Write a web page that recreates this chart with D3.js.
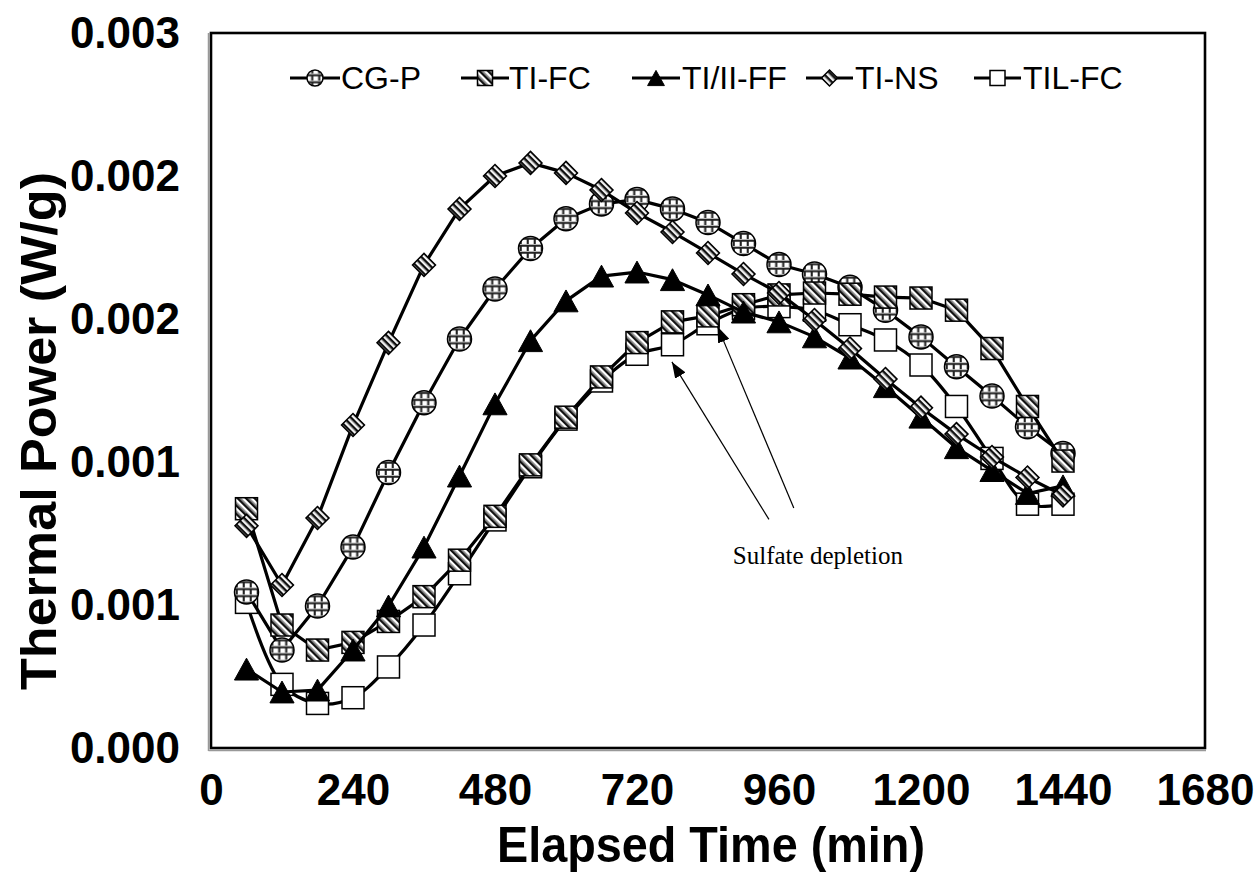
<!DOCTYPE html>
<html><head><meta charset="utf-8">
<script src="https://cdn.jsdelivr.net/npm/d3@7"></script>
<style>body{margin:0;background:#fff}</style>
</head><body><svg id="c" width="1257" height="882"></svg>
<script>
// ---------------- DATA ----------------
const times = [60,120,180,240,300,360,420,480,540,600,660,720,780,840,900,960,1020,1080,1140,1200,1260,1320,1380,1440];
const cgP   = [0.000655,0.000411,0.000596,0.000843,0.001156,0.001449,0.001716,0.001926,0.002096,0.002221,0.002283,0.002301,0.002262,0.002205,0.002117,0.002029,0.001989,0.001933,0.001837,0.001725,0.001600,0.001477,0.001348,0.001236];
const tiFC  = [0.001004,0.000516,0.000411,0.000443,0.000531,0.000635,0.000788,0.000972,0.001188,0.001388,0.001557,0.001701,0.001788,0.001813,0.001860,0.001901,0.001909,0.001904,0.001892,0.001888,0.001837,0.001676,0.001433,0.001204];
const tiFF  = [0.000331,0.000235,0.000243,0.000411,0.000596,0.000843,0.001141,0.001444,0.001709,0.001876,0.001980,0.001997,0.001965,0.001901,0.001829,0.001788,0.001725,0.001636,0.001516,0.001388,0.001260,0.001164,0.001068,0.001100];
const tiNS  = [0.000932,0.000684,0.000965,0.001355,0.001700,0.002027,0.002262,0.002400,0.002455,0.002413,0.002341,0.002245,0.002165,0.002077,0.001989,0.001909,0.001796,0.001676,0.001548,0.001428,0.001317,0.001221,0.001135,0.001060];
const tilFC = [0.000611,0.000267,0.000187,0.000211,0.000340,0.000516,0.000731,0.000957,0.001180,0.001380,0.001540,0.001652,0.001692,0.001780,0.001844,0.001852,0.001837,0.001776,0.001712,0.001607,0.001433,0.001215,0.001023,0.001023];
const seriesNames = ["CG-P","TI-FC","TI/II-FF","TI-NS","TIL-FC"];
const xTicks = [0,240,480,720,960,1200,1440,1680];
const yTicks = [0,0.0006,0.0012,0.0018,0.0024,0.003];
const yTickLabels = ["0.000","0.001","0.001","0.002","0.002","0.003"];
const xTitle = "Elapsed Time (min)";
const yTitle = "Thermal Power (W/g)";
const noteText = "Sulfate depletion";
const noteAnchor = [882, 0.000772];
const arrows = [
  {from:[943,0.000959], to:[779,0.00162]},
  {from:[985,0.001007], to:[856,0.001769]}
];

// ---------------- LAYOUT ----------------
const svg = d3.select("#c");
const plot = {left:211, right:1205, top:33, bottom:748};
const x = d3.scaleLinear().domain([0,1680]).range([plot.left, plot.right]);
const y = d3.scaleLinear().domain([0,0.003]).range([plot.bottom, plot.top]);
const FONT = "'Liberation Sans', Arial, sans-serif";

// ---------------- PATTERNS ----------------
const defs = svg.append("defs");
const pg = defs.append("pattern").attr("id","pGrid").attr("patternUnits","userSpaceOnUse")
  .attr("width",7).attr("height",7).attr("x",-4.5).attr("y",-4.5);
pg.append("rect").attr("width",7).attr("height",7).attr("fill","#fff");
pg.append("rect").attr("x",0).attr("width",1).attr("height",7).attr("fill","#bbb");
pg.append("rect").attr("x",1).attr("width",1.8).attr("height",7).attr("fill","#222");
pg.append("rect").attr("y",0).attr("width",7).attr("height",1).attr("fill","#bbb");
pg.append("rect").attr("y",1).attr("width",7).attr("height",1.8).attr("fill","#222");

const pd = defs.append("pattern").attr("id","pDiag").attr("patternUnits","userSpaceOnUse")
  .attr("width",6).attr("height",6).attr("patternTransform","rotate(-45)");
pd.append("rect").attr("width",6).attr("height",6).attr("fill","#fff");
pd.append("rect").attr("width",2.6).attr("height",6).attr("fill","#111");
pd.append("rect").attr("x",2.6).attr("width",1.2).attr("height",6).attr("fill","#888");

const ph = defs.append("pattern").attr("id","pH").attr("patternUnits","userSpaceOnUse")
  .attr("width",5).attr("height",5);
ph.append("rect").attr("width",5).attr("height",5).attr("fill","#fff");
ph.append("rect").attr("width",5).attr("height",2).attr("fill","#111");
ph.append("rect").attr("y",2).attr("width",5).attr("height",1.2).attr("fill","#888");

const am = defs.append("marker").attr("id","arrow").attr("viewBox","0 0 16 12")
  .attr("refX",16).attr("refY",6).attr("markerWidth",16).attr("markerHeight",12)
  .attr("markerUnits","userSpaceOnUse").attr("orient","auto");
am.append("path").attr("d","M0,0 L16,6 L0,12 Z").attr("fill","#000");

// ---------------- MARKERS ----------------
function drawMarker(g, type, s){
  if(type==="circle"){
    g.append("circle").attr("r",s/2).attr("fill","url(#pGrid)").attr("stroke","#000").attr("stroke-width",1.5);
  } else if(type==="hsquare"){
    g.append("rect").attr("x",-s/2).attr("y",-s/2).attr("width",s).attr("height",s)
      .attr("fill","url(#pDiag)").attr("stroke","#000").attr("stroke-width",1.5);
  } else if(type==="osquare"){
    g.append("rect").attr("x",-s/2).attr("y",-s/2).attr("width",s).attr("height",s)
      .attr("fill","#fff").attr("stroke","#000").attr("stroke-width",1.5);
  } else if(type==="triangle"){
    const w=s*1.05, h=s*0.95;
    g.append("path").attr("d",`M0,${-h/2} L${w/2},${h/2} L${-w/2},${h/2} Z`).attr("fill","#000")
      .attr("stroke","#000").attr("stroke-width",1);
  } else if(type==="diamond"){
    const a=s/Math.SQRT2;
    g.append("g").attr("transform","rotate(45)").append("rect")
      .attr("x",-a/2).attr("y",-a/2).attr("width",a).attr("height",a)
      .attr("fill","url(#pH)").attr("stroke","#000").attr("stroke-width",1.5);
  }
}

const seriesDefs = {
  "CG-P":    {values:cgP,   marker:"circle",   size:24, curve:d3.curveLinear},
  "TI-FC":   {values:tiFC,  marker:"hsquare",  size:22, curve:d3.curveLinear},
  "TI/II-FF":{values:tiFF,  marker:"triangle", size:23, curve:d3.curveLinear},
  "TI-NS":   {values:tiNS,  marker:"diamond",  size:23, curve:d3.curveLinear},
  "TIL-FC":  {values:tilFC, marker:"osquare",  size:22, curve:d3.curveCatmullRom}
};
const drawOrder = ["TIL-FC","CG-P","TI-FC","TI/II-FF","TI-NS"];

// ---------------- FRAME ----------------
svg.append("line").attr("x1",plot.left-2.5).attr("x2",plot.left-2.5).attr("y1",plot.top).attr("y2",plot.bottom+3)
  .attr("stroke","#999").attr("stroke-width",1.5);
svg.append("line").attr("x1",plot.left-2.5).attr("x2",plot.right+1).attr("y1",plot.bottom+2.5).attr("y2",plot.bottom+2.5)
  .attr("stroke","#999").attr("stroke-width",1.5);
svg.append("rect").attr("x",plot.left).attr("y",plot.top).attr("width",plot.right-plot.left).attr("height",plot.bottom-plot.top)
  .attr("fill","none").attr("stroke","#000").attr("stroke-width",2.6);

// ---------------- SERIES ----------------
const gData = svg.append("g");
drawOrder.forEach(name=>{
  const sd = seriesDefs[name];
  const pts = times.map((t,i)=>[t, sd.values[i]]);
  const line = d3.line().x(d=>x(d[0])).y(d=>y(d[1])).curve(sd.curve);
  gData.append("path").attr("d",line(pts)).attr("fill","none").attr("stroke","#000").attr("stroke-width",3.2)
    .attr("stroke-linejoin","round");
  pts.forEach(p=>{
    const g = gData.append("g").attr("transform",`translate(${x(p[0])},${y(p[1])})`);
    drawMarker(g, sd.marker, sd.size);
  });
});

// ---------------- AXES ----------------
const yAxis = svg.append("g").attr("transform",`translate(${plot.left},0)`)
  .call(d3.axisLeft(y).tickValues(yTicks).tickSize(0).tickPadding(31).tickFormat((d,i)=>yTickLabels[i]));
yAxis.select(".domain").remove();
yAxis.selectAll("text").attr("font-family",FONT).attr("font-weight","bold").attr("font-size",44).attr("fill","#000");

const xAxis = svg.append("g").attr("transform",`translate(0,${plot.bottom})`)
  .call(d3.axisBottom(x).tickValues(xTicks).tickSize(0).tickPadding(26).tickFormat(d3.format("d")));
xAxis.select(".domain").remove();
xAxis.selectAll("text").attr("font-family",FONT).attr("font-weight","bold").attr("font-size",44).attr("fill","#000");

svg.append("text").attr("x",711).attr("y",862).attr("text-anchor","middle")
  .attr("font-family",FONT).attr("font-weight","bold").attr("font-size",50)
  .attr("textLength",428).attr("lengthAdjust","spacingAndGlyphs").text(xTitle);
svg.append("text").attr("transform","translate(56,431) rotate(-90)").attr("text-anchor","middle")
  .attr("font-family",FONT).attr("font-weight","bold").attr("font-size",50)
  .attr("textLength",518).attr("lengthAdjust","spacingAndGlyphs").text(yTitle);

// ---------------- LEGEND ----------------
const legendItems = [
  {name:"CG-P",     x0:290, x1:340, tx:341, ms:16},
  {name:"TI-FC",    x0:461, x1:509, tx:509, ms:15},
  {name:"TI/II-FF", x0:632, x1:680, tx:682, ms:16},
  {name:"TI-NS",    x0:806, x1:853, tx:855, ms:16},
  {name:"TIL-FC",   x0:974, x1:1021, tx:1023, ms:15}
];
const ly = 78;
const gL = svg.append("g");
legendItems.forEach(it=>{
  const sd = seriesDefs[it.name];
  gL.append("line").attr("x1",it.x0).attr("x2",it.x1).attr("y1",ly).attr("y2",ly).attr("stroke","#000").attr("stroke-width",3);
  drawMarker(gL.append("g").attr("transform",`translate(${(it.x0+it.x1)/2},${ly})`), sd.marker, it.ms);
  gL.append("text").attr("x",it.tx).attr("y",ly+11).attr("font-family",FONT).attr("font-size",32).attr("fill","#000").text(it.name);
});

// ---------------- ANNOTATION ----------------
arrows.forEach(a=>{
  svg.append("line").attr("x1",x(a.from[0])).attr("y1",y(a.from[1])).attr("x2",x(a.to[0])).attr("y2",y(a.to[1]))
    .attr("stroke","#000").attr("stroke-width",1.2).attr("marker-end","url(#arrow)");
});
svg.append("text").attr("x",x(noteAnchor[0])).attr("y",y(noteAnchor[1]))
  .attr("font-family","'Liberation Serif','Times New Roman',serif").attr("font-size",25).attr("fill","#000").text(noteText);
</script></body></html>
